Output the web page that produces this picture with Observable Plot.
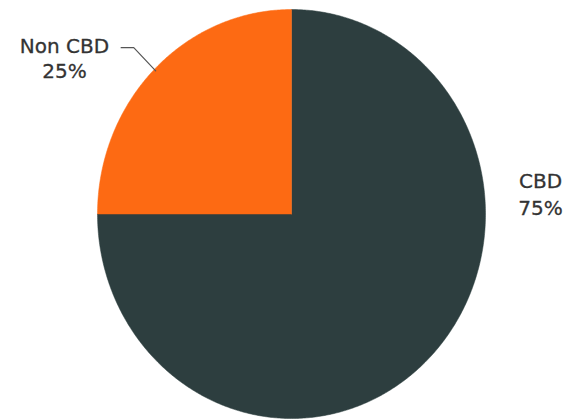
<!DOCTYPE html>
<html>
<head>
<meta charset="utf-8">
<script src="https://cdn.jsdelivr.net/npm/d3@7"></script>
<script src="https://cdn.jsdelivr.net/npm/@observablehq/plot@0.6"></script>
<style>
  html, body { margin: 0; padding: 0; background: #fff; }
  #chart { width: 568px; height: 420px; }
</style>
</head>
<body>
<div id="chart"></div>
<script>
// Data
const categories = ["CBD", "Non CBD"];
const shares = [75, 25];
const colors = ["#2d3e3f", "#fd6a13"];
const pctLabels = ["75%", "25%"];

// Build slice polygons from data (angles clockwise from 12 o'clock)
const total = d3.sum(shares);
const slices = [];
const poly = [];
let acc = 0;
categories.forEach((c, i) => {
  const a0 = acc / total * 2 * Math.PI;
  acc += shares[i];
  const a1 = acc / total * 2 * Math.PI;
  slices.push({category: c, a0, a1, mid: (a0 + a1) / 2, label: c + "\n" + pctLabels[i]});
  poly.push({category: c, x: 0, y: 0});
  const n = Math.max(2, Math.ceil((a1 - a0) / (Math.PI / 360)));
  for (let k = 0; k <= n; k++) {
    const a = a0 + (a1 - a0) * k / n;
    poly.push({category: c, x: Math.sin(a), y: Math.cos(a)});
  }
  poly.push({category: c, x: 0, y: 0});
});

// Leader line for the Non CBD label, along its mid angle
const nc = slices[1];
const elbow = {x: 1.15 * Math.sin(nc.mid), y: 1.15 * Math.cos(nc.mid)};
const leader = [
  {x: 0.99 * Math.sin(nc.mid), y: 0.99 * Math.cos(nc.mid)},
  elbow,
  {x: elbow.x - 0.065, y: elbow.y}
];

const W = 568, H = 420;
const chart = Plot.plot({
  width: W,
  height: H,
  marginLeft: 97,
  marginRight: 83,
  marginTop: 9,
  marginBottom: 2,
  x: {domain: [-1, 1], axis: null},
  y: {domain: [-1, 1], axis: null},
  color: {domain: categories, range: colors},
  style: {fontFamily: "'DejaVu Sans', sans-serif", background: "#fff", overflow: "visible"},
  marks: [
    Plot.line(poly, {x: "x", y: "y", z: "category", fill: "category", stroke: "category", strokeWidth: 0.5, curve: "linear"}),
    Plot.line(leader, {x: "x", y: "y", stroke: "#555", strokeWidth: 1.2}),
    Plot.text([slices[1]], {
      text: "label", frameAnchor: "top-left", dx: -33, dy: 68,
      textAnchor: "middle", lineAnchor: "bottom", lineHeight: 1.25,
      fontSize: 20, fill: "#333", letterSpacing: "0.7px", stroke: "#333", strokeWidth: 0.3
    }),
    Plot.text([slices[0]], {
      text: "label", frameAnchor: "top-right", dx: 55, dy: 205,
      textAnchor: "middle", lineAnchor: "bottom", lineHeight: 1.35,
      fontSize: 20, fill: "#333", letterSpacing: "0.7px", stroke: "#333", strokeWidth: 0.3
    })
  ]
});
document.getElementById("chart").appendChild(chart);
</script>
</body>
</html>
